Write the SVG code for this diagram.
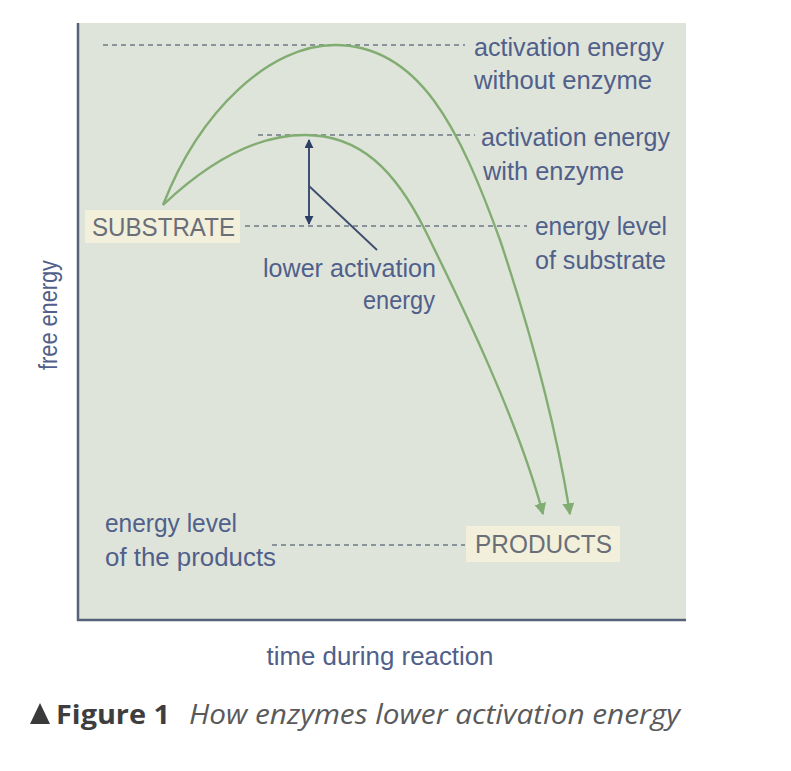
<svg xmlns="http://www.w3.org/2000/svg" width="791" height="771" viewBox="0 0 791 771">
<style>
.lbl{font-family:"Liberation Sans",Arial,sans-serif;font-size:25px;fill:#50608a}
.box{font-family:"Liberation Sans",Arial,sans-serif;font-size:26px;fill:#6a6e78}
.dash{stroke:#6f7786;stroke-width:1.6;stroke-dasharray:5 4;fill:none}
.curve{stroke:#82ad72;stroke-width:2.4;fill:none;marker-end:url(#ga)}
.cap{font-family:"Open Sans","Liberation Sans",sans-serif;font-size:27px}
</style>
<defs>
<marker id="ga" viewBox="0 0 10 10" refX="9" refY="5" markerWidth="5" markerHeight="5" orient="auto" markerUnits="strokeWidth">
<path d="M0,0 L10,5 L0,10 z" fill="#82ad72"/>
</marker>
<marker id="na" viewBox="0 0 10 10" refX="9" refY="5" markerWidth="5" markerHeight="5" orient="auto-start-reverse" markerUnits="strokeWidth">
<path d="M0,0 L10,5 L0,10 z" fill="#2e3f66"/>
</marker>
</defs>
<rect width="791" height="771" fill="#ffffff"/>
<g id="plot">
<rect x="78" y="23" width="608" height="597" fill="#dfe4da"/>
<path d="M78,23 V620 H686" fill="none" stroke="#56627a" stroke-width="2.5"/>
</g>
<g id="levels">
<line class="dash" x1="103" y1="45" x2="465" y2="45"/>
<line class="dash" x1="258" y1="135" x2="475" y2="135"/>
<line class="dash" x1="245" y1="226" x2="527" y2="226"/>
<line class="dash" x1="272" y1="545" x2="465" y2="545"/>
</g>
<g id="connectors">
<path class="curve" d="M163,205 C200,110 270,45 335,45 C420,45 460,130 500,240 C530,330 555,420 570,514"/>
<path class="curve" d="M163,205 C200,170 250,135 305,135 C360,135 395,170 425,230 C462,305 518,420 543,514"/>
<line x1="309" y1="140" x2="309" y2="224" stroke="#2e3f66" stroke-width="1.8" marker-start="url(#na)" marker-end="url(#na)"/>
<line x1="309" y1="186" x2="377" y2="250" stroke="#3e4d6e" stroke-width="1.8"/>
</g>
<g id="substrate">
<rect x="85" y="210" width="155" height="33" fill="#f2f0da"/>
<text class="box" x="92" y="236" textLength="143" lengthAdjust="spacingAndGlyphs">SUBSTRATE</text>
</g>
<g id="products">
<rect x="466" y="526" width="154" height="36" fill="#f2f0da"/>
<text class="box" x="475" y="553" textLength="137" lengthAdjust="spacingAndGlyphs">PRODUCTS</text>
</g>
<g id="label-without">
<text class="lbl" x="474" y="56" textLength="190" lengthAdjust="spacingAndGlyphs">activation energy</text>
<text class="lbl" x="474" y="89" textLength="178" lengthAdjust="spacingAndGlyphs">without enzyme</text>
</g>
<g id="label-with">
<text class="lbl" x="481" y="146" textLength="189" lengthAdjust="spacingAndGlyphs">activation energy</text>
<text class="lbl" x="483" y="180" textLength="141" lengthAdjust="spacingAndGlyphs">with enzyme</text>
</g>
<g id="label-substrate-level">
<text class="lbl" x="535" y="235" textLength="132" lengthAdjust="spacingAndGlyphs">energy level</text>
<text class="lbl" x="535" y="269" textLength="131" lengthAdjust="spacingAndGlyphs">of substrate</text>
</g>
<g id="label-lower">
<text class="lbl" x="263" y="277" textLength="173" lengthAdjust="spacingAndGlyphs">lower activation</text>
<text class="lbl" x="363" y="309" textLength="72" lengthAdjust="spacingAndGlyphs">energy</text>
</g>
<g id="label-products-level">
<text class="lbl" x="105" y="532" textLength="132" lengthAdjust="spacingAndGlyphs">energy level</text>
<text class="lbl" x="105" y="566" textLength="171" lengthAdjust="spacingAndGlyphs">of the products</text>
</g>
<g id="axes-labels">
<text class="lbl" x="380" y="665" text-anchor="middle" textLength="227" lengthAdjust="spacingAndGlyphs">time during reaction</text>
<text class="lbl" transform="translate(57,315) rotate(-90)" text-anchor="middle" textLength="110" lengthAdjust="spacingAndGlyphs">free energy</text>
</g>
<g id="caption">
<path d="M30,724 L40,703 L50,724 z" fill="#3a3a3a"/>
<text class="cap" x="56" y="724" font-weight="bold" fill="#3e3e3e" textLength="114" lengthAdjust="spacingAndGlyphs">Figure 1</text>
<text class="cap" x="189" y="724" font-style="italic" fill="#5a5a5a" textLength="491" lengthAdjust="spacingAndGlyphs">How enzymes lower activation energy</text>
</g>
</svg>
